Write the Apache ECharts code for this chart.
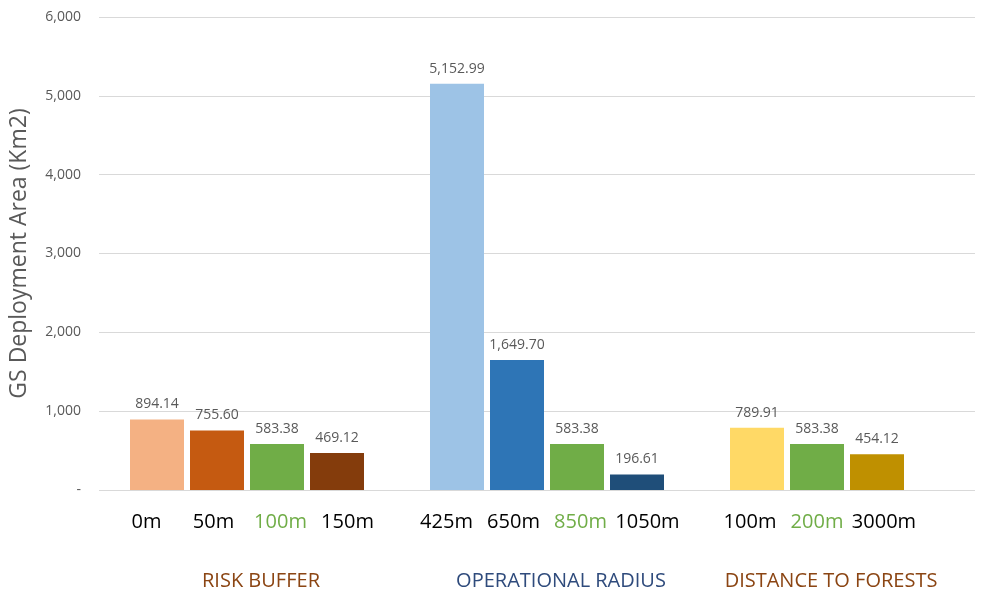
<!DOCTYPE html>
<html>
<head>
<meta charset="utf-8">
<script src="https://cdn.jsdelivr.net/npm/echarts@6/dist/echarts.min.js"></script>
<style>
  html, body { margin: 0; padding: 0; background: #fff; }
  #chart { width: 990px; height: 595px; }
</style>
</head>
<body>
<div id="chart"></div>
<script>
// Bar slots; empty strings are spacer slots between the three groups
const categories = ['0m', '50m', '100m', '150m', '', '425m', '650m', '850m', '1050m', '', '100m', '200m', '3000m', ''];
const values = [894.14, 755.60, 583.38, 469.12, null, 5152.99, 1649.70, 583.38, 196.61, null, 789.91, 583.38, 454.12, null];
const barColors = ['#F4B183', '#C55A11', '#70AD47', '#843C0C', null, '#9DC3E6', '#2E75B6', '#70AD47', '#1F4E79', null, '#FFD966', '#70AD47', '#BF9000', null];
const labelColors = ['#000', '#000', '#70AD47', '#000', '#000', '#000', '#000', '#70AD47', '#000', '#000', '#000', '#70AD47', '#000', '#000'];

// Group captions, with the slot range each one sits under
const groupNames = ['RISK BUFFER', 'OPERATIONAL RADIUS', 'DISTANCE TO FORESTS'];
const groupColors = ['#8B4513', '#2F4B7C', '#8B4513'];
const groupFirst = [0, 5, 10];
const groupLast = [3, 8, 12];

const yTicks = { min: 0, max: 6000, interval: 1000 };

const FONT = '"Open Sans", "Noto Sans", sans-serif';
const LABEL_SPREAD = 7; // extra px between neighbouring slot labels inside a group
const chart = echarts.init(document.getElementById('chart'), null, { renderer: 'canvas' });

const fmtValue = v => v.toLocaleString('en-US', { minimumFractionDigits: 2, maximumFractionDigits: 2 });

// Per-slot rich styles: colour plus a small sideways nudge away from the group centre
const slotRich = {};
categories.forEach((c, i) => {
  let shift = 0;
  groupFirst.forEach((f, g) => {
    if (i >= f && i <= groupLast[g]) shift = (i - (f + groupLast[g]) / 2) * LABEL_SPREAD;
  });
  const pad = shift >= 0 ? [0, 0, 0, 2 * shift] : [0, -2 * shift, 0, 0];
  slotRich['s' + i] = { color: labelColors[i], fontFamily: FONT, fontSize: 20, padding: pad };
});

chart.setOption({
  animation: false,
  grid: [
    { left: 97, right: 15, top: 17, bottom: 105 },
    { left: 127, right: 23, top: 17, bottom: 105 }
  ],
  xAxis: [
    { gridIndex: 0, type: 'value', show: false, min: 0, max: 1 },
    {
      gridIndex: 1,
      type: 'category',
      data: categories,
      axisLine: { show: false },
      axisTick: { show: false },
      axisLabel: {
        interval: 0,
        margin: 22,
        fontFamily: FONT,
        fontSize: 20,
        formatter: (val, idx) => val ? '{s' + idx + '|' + val + '}' : '',
        rich: slotRich
      }
    }
  ],
  yAxis: [
    {
      gridIndex: 0,
      type: 'value',
      min: yTicks.min,
      max: yTicks.max,
      interval: yTicks.interval,
      name: 'GS Deployment Area (Km2)',
      nameLocation: 'middle',
      nameGap: 68,
      nameTextStyle: { fontFamily: FONT, fontSize: 23, color: '#595959' },
      axisLine: { show: false },
      axisTick: { show: false },
      axisLabel: {
        margin: 18,
        fontFamily: FONT,
        fontSize: 14,
        color: '#595959',
        formatter: v => v === 0 ? '-' : v.toLocaleString('en-US')
      },
      splitLine: { lineStyle: { color: '#D9D9D9', width: 1 } }
    },
    {
      gridIndex: 1,
      type: 'value',
      min: yTicks.min,
      max: yTicks.max,
      interval: yTicks.interval,
      show: false,
      splitLine: { show: false }
    }
  ],
  series: [{
    type: 'bar',
    xAxisIndex: 1,
    yAxisIndex: 1,
    barWidth: 54,
    data: values.map((v, i) => ({
      value: v,
      itemStyle: { color: barColors[i] || 'transparent' }
    })),
    label: {
      show: true,
      position: 'top',
      distance: 8,
      fontFamily: FONT,
      fontSize: 14,
      color: '#595959',
      formatter: p => p.value == null ? '' : fmtValue(p.value)
    }
  }]
});

// Group captions placed under the middle of each group of bars
function placeGroupCaptions() {
  const y = chart.getHeight() - 14;
  const px = i => chart.convertToPixel({ xAxisIndex: 1 }, i);
  const elements = groupNames.map((name, g) => {
    const x = (px(groupFirst[g]) + px(groupLast[g])) / 2 + 14;
    return {
      type: 'text',
      x: x,
      y: y,
      style: {
        text: name,
        fill: groupColors[g],
        font: '20px ' + FONT,
        textAlign: 'center',
        textVerticalAlign: 'middle'
      }
    };
  });
  chart.setOption({ graphic: elements });
}
placeGroupCaptions();
</script>
</body>
</html>
